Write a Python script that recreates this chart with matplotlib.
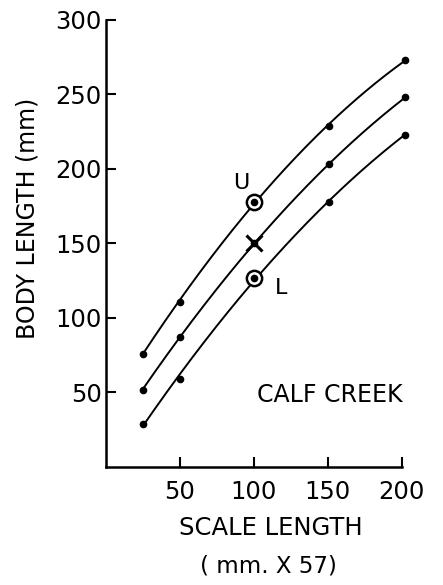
import numpy as np
from matplotlib import pyplot as plt

# scale length (mm x 57) at which points were plotted
scale_len = [25, 50, 100, 151, 202]
upper = [76, 111, 178, 229, 273]
middle = [52, 87, 150, 203, 248]
lower = [29, 59, 127, 178, 223]

x_ticks = [50, 100, 150, 200]
y_ticks = [50, 100, 150, 200, 250, 300]


def smooth(x, y, n=300):
    # smooth fitted curve drawn through the points (hand-drawn look of original)
    coef = np.polyfit(x, y, 2)
    xs = np.linspace(min(x), max(x), n)
    return xs, np.polyval(coef, xs)


plt.rcParams['font.family'] = ['DejaVu Sans']
fig = plt.figure(figsize=(4.43, 5.85), dpi=100)
ax = fig.add_axes([0.2386, 0.2017, 0.6686, 0.7643])

for series in (upper, middle, lower):
    xs, ys = smooth(scale_len, series)
    ax.plot(xs, ys, color="black", lw=1.4, clip_on=False)
    ax.plot(scale_len, series, "o", color="black", ms=4.5, clip_on=False)

# marked points at scale length 100
ax.plot(scale_len[2], upper[2], "o", ms=11, mfc="white", mec="black", mew=1.8)
ax.plot(scale_len[2], upper[2], "o", ms=4.5, color="black")
ax.plot(scale_len[2], lower[2], "o", ms=11, mfc="white", mec="black", mew=1.8)
ax.plot(scale_len[2], lower[2], "o", ms=4.5, color="black")
ax.plot(scale_len[2], middle[2], "x", ms=11, color="black", mew=2.2)

ax.text(91.5, 190.5, "U", fontsize=16, ha="center", va="center")
ax.text(118.5, 120, "L", fontsize=16, ha="center", va="center")
ax.text(151, 48, "CALF CREEK", fontsize=17, ha="center", va="center")

ax.set_xlim(0, 200)
ax.set_ylim(0, 300)
ax.set_xticks(x_ticks)
ax.set_yticks(y_ticks)
ax.spines["top"].set_visible(False)
ax.spines["right"].set_visible(False)
ax.spines["left"].set_linewidth(1.8)
ax.spines["bottom"].set_linewidth(1.8)
ax.tick_params(direction="in", length=7, width=1.5, labelsize=17.5, pad=3)
ax.tick_params(axis="x", pad=9)

fig.text(0.061, 0.626, "BODY LENGTH (mm)", rotation=90, fontsize=17,
         ha="center", va="center")
fig.text(0.612, 0.097, "SCALE LENGTH", fontsize=17.5, ha="center", va="center")
fig.text(0.605, 0.032, "( mm. X 57)", fontsize=16.5, ha="center", va="center")

fig.savefig("out.png", dpi=100)
